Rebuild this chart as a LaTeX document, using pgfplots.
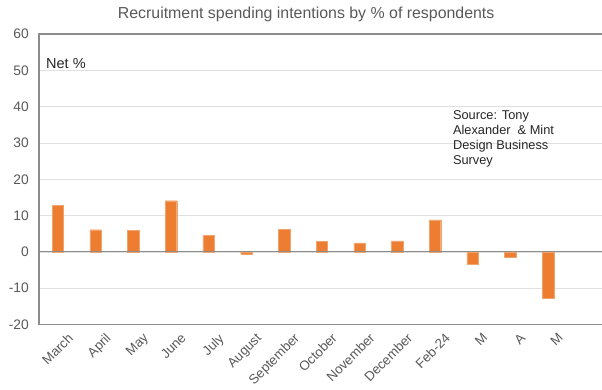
\documentclass[border=0pt]{standalone}
\usepackage{pgfplots}
\pgfplotsset{compat=1.18}
\usepackage{fontspec}
\setmainfont{Liberation Sans}
\definecolor{barorange}{HTML}{ED7D31}
\definecolor{txtgray}{HTML}{595959}
\definecolor{gridgray}{HTML}{E0E0E0}
\definecolor{axisgray}{HTML}{8C8C8C}
\begin{document}
\begin{tikzpicture}
\useasboundingbox (0,0) rectangle (602pt,389pt);
\begin{axis}[
  at={(39pt,64.5pt)}, anchor=south west,
  scale only axis, width=563pt, height=290.5pt,
  xmin=-0.5, xmax=14.43,
  ymin=-20, ymax=60, ytick={-20,-10,...,60},
  axis line style={draw=none},
  ymajorgrids, grid style={gridgray, line width=0.6pt},
  major tick length=0pt,
  xtick={0,...,13},
  xticklabels={March,April,May,June,July,August,September,October,November,December,Feb-24,M,A,M},
  xticklabel style={rotate=45, anchor=north east, inner sep=0pt, xshift=1pt, yshift=-12pt, font=\fontsize{13.3}{15}\selectfont, text=txtgray},
  yticklabel style={font=\fontsize{13.8}{15}\selectfont, text=txtgray, inner sep=0pt, xshift=-10pt},
  /pgf/number format/assume math mode=true,
  ybar, bar width=11.5pt, bar shift=0pt,
  clip=false,
]
\addplot[fill=barorange, draw=barorange!70!white, line width=0.3pt] coordinates {
(0,12.9) (1,6.1) (2,5.9) (3,14.1) (4,4.5) (5,-0.7) (6,6.3) (7,2.9) (8,2.5) (9,3.0) (10,8.8) (11,-3.3) (12,-1.4) (13,-12.7)
};
\draw[axisgray, line width=1.2pt] (rel axis cs:0,0) -- (rel axis cs:0,1) -- (rel axis cs:1.01,1);
\draw[axisgray, line width=1.2pt] (rel axis cs:0,0) -- (rel axis cs:1.01,0);
\draw[axisgray, line width=1pt] (axis cs:-0.5,0) -- (axis cs:14.6,0);
\node[anchor=west, inner sep=0pt, font=\fontsize{14.5}{16}\selectfont, text=black!85] at (rel axis cs:0.0124,0.897) {Net \%};
\node[anchor=north west, align=left, inner sep=0pt, font=\fontsize{12.8}{15}\selectfont, text=black!85] at (rel axis cs:0.735,0.738) {Source: Tony\\Alexander \ \& Mint\\Design Business\\Survey};
\node[font=\fontsize{15.9}{18}\selectfont, text=txtgray] at (rel axis cs:0.4745,1.068) {Recruitment spending intentions by \% of respondents};
\end{axis}
\end{tikzpicture}
\end{document}
